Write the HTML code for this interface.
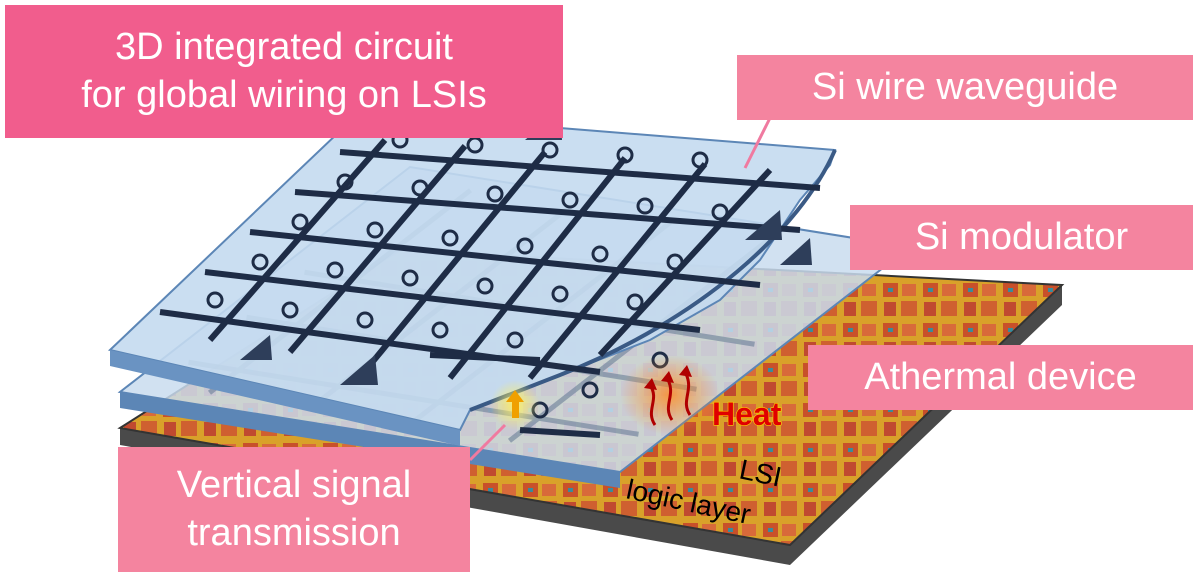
<!DOCTYPE html>
<html><head><meta charset="utf-8"><style>
html,body{margin:0;padding:0;background:#fff;width:1200px;height:577px;overflow:hidden}
.lbl{position:absolute;color:#fff;font-family:"Liberation Sans",sans-serif;display:flex;align-items:center;justify-content:center;text-align:center;line-height:1.25}
</style></head><body>
<svg width="1200" height="577" style="position:absolute;left:0;top:0">
<defs>
<pattern id="chip" width="40" height="40" patternUnits="userSpaceOnUse">
<rect width="40" height="40" fill="#d9a12a"/>
<rect x="3" y="3" width="15" height="14" fill="#c8502a"/>
<rect x="22" y="4" width="14" height="12" fill="#d86a3a"/>
<rect x="4" y="22" width="12" height="14" fill="#c04a30"/>
<rect x="21" y="21" width="16" height="15" fill="#cf6030"/>
<rect x="8" y="8" width="5" height="4" fill="#3a8a9a"/>
</pattern>
<radialGradient id="glow"><stop offset="0" stop-color="#ff8a20" stop-opacity=".8"/><stop offset="1" stop-color="#ff8a20" stop-opacity="0"/></radialGradient>
<radialGradient id="glow2"><stop offset="0" stop-color="#fff060" stop-opacity=".9"/><stop offset="1" stop-color="#fff060" stop-opacity="0"/></radialGradient>
</defs>
<polygon points="120,428 120,445 790,565 1062,305 1062,285 790,545" fill="#4a4a4a"/>
<polygon points="120,428 400,250 1062,285 790,545" fill="url(#chip)" stroke="#333" stroke-width="2"/>
<g transform="matrix(500,80,290,-225,120,392)">
<polygon points="0,0 1,0 1,1 0,1" fill="#c9dcee" fill-opacity=".85" stroke="#5c86b6" stroke-width="2" vector-effect="non-scaling-stroke"/>
<g stroke="#6a7f98" stroke-width="5" opacity=".6">
<line x1=".05" y1=".15" x2=".95" y2=".15" vector-effect="non-scaling-stroke"/>
<line x1=".05" y1=".35" x2=".95" y2=".35" vector-effect="non-scaling-stroke"/>
<line x1=".05" y1=".55" x2=".95" y2=".55" vector-effect="non-scaling-stroke"/>
<line x1=".15" y1=".05" x2=".15" y2=".95" vector-effect="non-scaling-stroke"/>
<line x1=".35" y1=".05" x2=".35" y2=".95" vector-effect="non-scaling-stroke"/>
<line x1=".55" y1=".05" x2=".55" y2=".95" vector-effect="non-scaling-stroke"/>
<line x1=".75" y1=".05" x2=".75" y2=".95" vector-effect="non-scaling-stroke"/>
</g>
</g>
<polygon points="120,392 120,408 620,488 620,472" fill="#5c86b6"/>
<g>
<polygon points="110,350 360,112 835,150 830,165 800,200 760,260 720,300 650,340 560,375 470,410 460,430" fill="#c4daef" fill-opacity=".9" stroke="#5c86b6" stroke-width="2"/>
<polygon points="110,350 110,366 460,446 460,430" fill="#6a93c2"/>
<path d="M835,150 C800,230 700,320 560,375 L470,410" fill="none" stroke="#3a5a85" stroke-width="4"/>
<g stroke="#1e2c46" stroke-width="6" fill="none">
<line x1="160" y1="312" x2="600" y2="372"/>
<line x1="205" y1="272" x2="700" y2="330"/>
<line x1="250" y1="232" x2="760" y2="285"/>
<line x1="295" y1="192" x2="800" y2="230"/>
<line x1="340" y1="152" x2="820" y2="188"/>
<line x1="210" y1="340" x2="385" y2="140"/>
<line x1="290" y1="352" x2="465" y2="146"/>
<line x1="370" y1="365" x2="545" y2="152"/>
<line x1="450" y1="378" x2="625" y2="158"/>
<line x1="530" y1="378" x2="705" y2="164"/>
<line x1="600" y1="355" x2="770" y2="170"/>
<line x1="430" y1="355" x2="540" y2="360"/>
<line x1="520" y1="430" x2="600" y2="435"/>
</g>
<g stroke="#1e2c46" stroke-width="3" fill="none">
<circle cx="215" cy="300" r="7"/><circle cx="290" cy="310" r="7"/><circle cx="365" cy="320" r="7"/><circle cx="440" cy="330" r="7"/><circle cx="515" cy="340" r="7"/>
<circle cx="260" cy="262" r="7"/><circle cx="335" cy="270" r="7"/><circle cx="410" cy="278" r="7"/><circle cx="485" cy="286" r="7"/><circle cx="560" cy="294" r="7"/><circle cx="635" cy="302" r="7"/>
<circle cx="300" cy="222" r="7"/><circle cx="375" cy="230" r="7"/><circle cx="450" cy="238" r="7"/><circle cx="525" cy="246" r="7"/><circle cx="600" cy="254" r="7"/><circle cx="675" cy="262" r="7"/>
<circle cx="345" cy="182" r="7"/><circle cx="420" cy="188" r="7"/><circle cx="495" cy="194" r="7"/><circle cx="570" cy="200" r="7"/><circle cx="645" cy="206" r="7"/><circle cx="720" cy="212" r="7"/>
<circle cx="400" cy="140" r="7"/><circle cx="475" cy="145" r="7"/><circle cx="550" cy="150" r="7"/><circle cx="625" cy="155" r="7"/><circle cx="700" cy="160" r="7"/>
<circle cx="590" cy="390" r="7"/><circle cx="660" cy="360" r="7"/><circle cx="540" cy="410" r="7"/>
</g>
<g fill="#2e3e5a">
<polygon points="340,385 375,355 378,385"/><polygon points="240,360 270,335 272,360"/><polygon points="525,140 560,110 562,140"/><polygon points="745,240 780,210 782,240"/><polygon points="780,265 810,238 812,265"/>
</g>
</g>
<ellipse cx="515" cy="405" rx="25" ry="25" fill="url(#glow2)"/>
<polygon points="512,418 519,418 519,402 524,402 515,390 506,402 512,402" fill="#f0a000"/>
<ellipse cx="670" cy="395" rx="50" ry="40" fill="url(#glow)"/>
<g stroke="#b00000" stroke-width="3" fill="none">
<path d="M655,425 C645,410 660,400 650,385"/><path d="M672,420 C662,405 677,395 667,378"/><path d="M690,415 C680,400 695,390 685,372"/>
</g>
<g fill="#b00000"><polygon points="644,388 652,378 657,390"/><polygon points="661,381 669,371 674,383"/><polygon points="679,375 687,365 692,377"/></g>
<text x="712" y="425" font-family="Liberation Sans,sans-serif" font-size="32" font-weight="bold" fill="#e00000" stroke="#ffd000" stroke-width="1.2" paint-order="stroke">Heat</text>
<text x="625" y="498" font-family="Liberation Sans,sans-serif" font-size="28" fill="#000" transform="rotate(12 625 498)">logic layer</text>
<text x="738" y="478" font-family="Liberation Sans,sans-serif" font-size="28" fill="#000" transform="rotate(12 738 478)">LSI</text>
<line x1="770" y1="118" x2="745" y2="168" stroke="#f07aa0" stroke-width="3"/>
<line x1="470" y1="460" x2="505" y2="425" stroke="#f07aa0" stroke-width="3"/>
</svg>
<div class="lbl" style="left:5px;top:5px;width:558px;height:133px;background:#f15d8d;font-size:38px">3D integrated circuit<br>for global wiring on LSIs</div>
<div class="lbl" style="left:737px;top:55px;width:456px;height:65px;background:#f4849f;font-size:38px">Si wire waveguide</div>
<div class="lbl" style="left:850px;top:205px;width:343px;height:65px;background:#f4849f;font-size:38px">Si modulator</div>
<div class="lbl" style="left:808px;top:345px;width:385px;height:65px;background:#f4849f;font-size:38px">Athermal device</div>
<div class="lbl" style="left:118px;top:447px;width:352px;height:125px;background:#f4849f;font-size:38px">Vertical signal<br>transmission</div>
</body></html>
